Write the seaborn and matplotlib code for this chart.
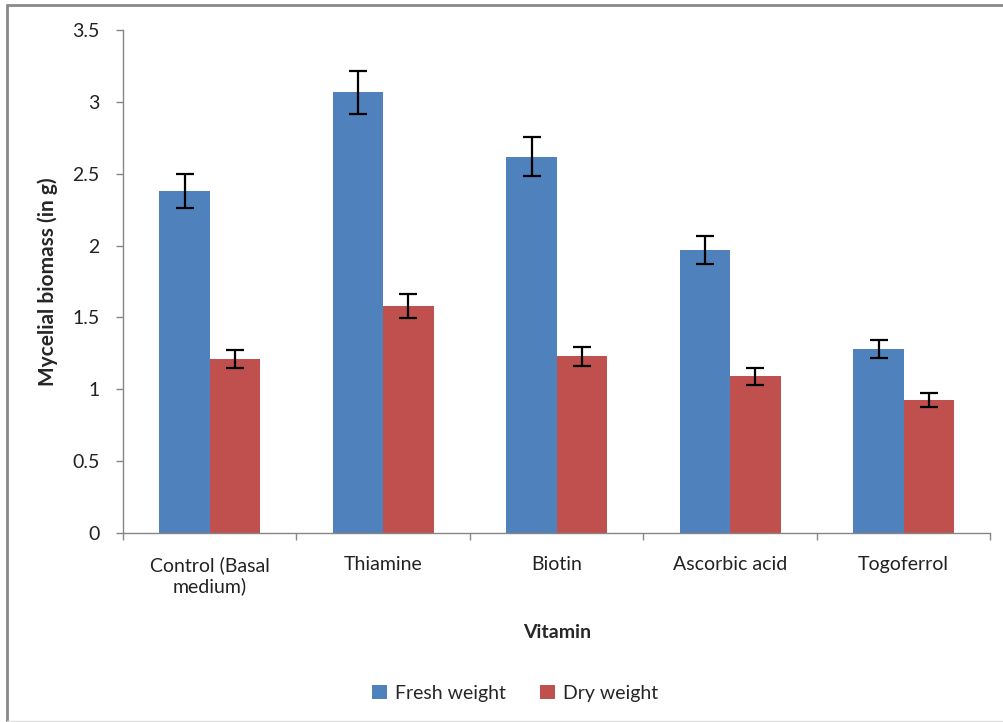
import matplotlib
matplotlib.use("Agg")
import matplotlib.pyplot as plt
from matplotlib.lines import Line2D
from matplotlib.ticker import FixedLocator
from matplotlib.container import BarContainer
import seaborn as sns
import pandas as pd
import numpy as np

categories = ["Control (Basal\nmedium)", "Thiamine", "Biotin", "Ascorbic acid", "Togoferrol"]
series_names = ["Fresh weight", "Dry weight"]
fresh = [2.38, 3.07, 2.62, 1.97, 1.28]
fresh_err = [0.12, 0.15, 0.135, 0.10, 0.065]
dry = [1.21, 1.58, 1.23, 1.09, 0.925]
dry_err = [0.06, 0.085, 0.065, 0.06, 0.05]
yticks = [0, 0.5, 1, 1.5, 2, 2.5, 3, 3.5]
ytick_labels = ["0", "0.5", "1", "1.5", "2", "2.5", "3", "3.5"]
colors = ["#4F81BD", "#C0504D"]

sns.set_theme(style="white")
plt.rcParams['font.family'] = ['Lato', 'DejaVu Sans']

df = pd.DataFrame({
    "Vitamin": categories * 2,
    "Series": [series_names[0]] * 5 + [series_names[1]] * 5,
    "Value": fresh + dry,
})

fig = plt.figure(figsize=(10.04, 7.22), dpi=100)
ax = fig.add_axes([0.1225, 0.262, 0.864, 0.696])

sns.barplot(data=df, x="Vitamin", y="Value", hue="Series", order=categories,
            hue_order=series_names, palette=colors, width=0.58, gap=0,
            errorbar=None, saturation=1, ax=ax, legend=True, linewidth=0)

errs = [fresh_err, dry_err]
vals = [fresh, dry]
bar_containers = [c for c in ax.containers if isinstance(c, BarContainer)]
for ci, cont in enumerate(bar_containers):
    xs = [p.get_x() + p.get_width() / 2 for p in cont.patches]
    ax.errorbar(xs, vals[ci], yerr=errs[ci], fmt="none", ecolor="black",
                elinewidth=1.6, capsize=6.5, capthick=1.6, zorder=5)

ax.set_ylim(0, 3.5)
ax.set_xlim(-0.5, 4.5)
ax.set_yticks(yticks)
ax.set_yticklabels(ytick_labels, fontsize=14, color="#222222")
ax.tick_params(axis="y", left=True, length=5, width=1, color="#868686", pad=12)
ax.xaxis.set_minor_locator(FixedLocator(np.arange(-0.5, 5.0, 1.0)))
ax.tick_params(axis="x", which="major", length=0, pad=17, labelsize=14, labelcolor="#222222")
ax.tick_params(axis="x", which="minor", bottom=True, length=5, width=1, color="#868686")
for s in ["top", "right"]:
    ax.spines[s].set_visible(False)
for s in ["left", "bottom"]:
    ax.spines[s].set_color("#868686")
    ax.spines[s].set_linewidth(1)

ax.set_xlabel("Vitamin", fontsize=14, fontweight="bold", labelpad=21)
ax.set_ylabel("Mycelial biomass (in g)", fontsize=15, fontweight="bold", labelpad=10)

ax.legend(loc="center", bbox_to_anchor=(0.452, -0.32), ncol=2, frameon=False,
          fontsize=14, handlelength=0.75, handleheight=0.75, columnspacing=1.8,
          handletextpad=0.4)

fig.add_artist(Line2D([0.007, 0.007], [0.0, 0.993], transform=fig.transFigure,
                      color="#8a8a8a", linewidth=2))
fig.add_artist(Line2D([0.007, 1.0], [0.993, 0.993], transform=fig.transFigure,
                      color="#8a8a8a", linewidth=2))
fig.add_artist(Line2D([0.007, 1.0], [0.002, 0.002], transform=fig.transFigure,
                      color="#dddddd", linewidth=1))

fig.savefig("out.png", dpi=100)
